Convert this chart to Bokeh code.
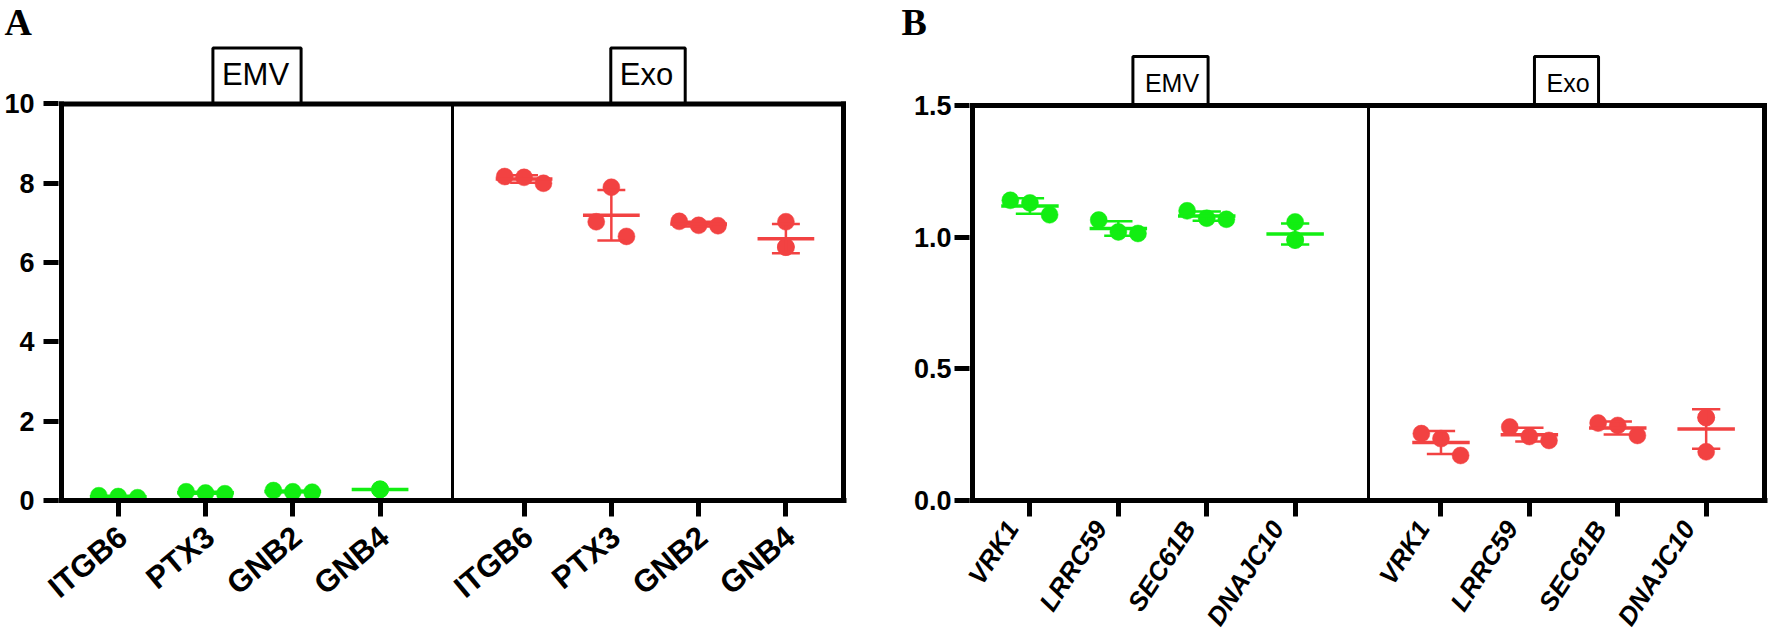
import numpy as np
from bokeh.plotting import figure
from bokeh.layouts import row
from bokeh.models import Range1d, FixedTicker, Label, NumeralTickFormatter, LinearAxis
from bokeh.embed import file_html
from bokeh.resources import INLINE

# ---------------- data ----------------
groups = ["EMV", "Exo"]

genes_a = ["ITGB6", "PTX3", "GNB2", "GNB4"]
emv_a = [[0.12, 0.10, 0.07], [0.22, 0.19, 0.17], [0.25, 0.22, 0.21], [0.28, 0.28, 0.28]]
exo_a = [[8.17, 8.15, 8.00], [7.90, 7.03, 6.66], [7.04, 6.94, 6.93], [7.03, 6.39, 6.39]]
yticks_a = [0, 2, 4, 6, 8, 10]

genes_b = ["VRK1", "LRRC59", "SEC61B", "DNAJC10"]
emv_b = [[1.14, 1.13, 1.085], [1.065, 1.020, 1.014], [1.10, 1.072, 1.068], [1.058, 0.989, 0.989]]
exo_b = [[0.254, 0.235, 0.171], [0.279, 0.243, 0.228], [0.294, 0.285, 0.247], [0.315, 0.315, 0.185]]
yticks_b = [0.0, 0.5, 1.0, 1.5]

# ---------------- layout / style ----------------
GREEN = "#12EE12"
RED = "#F24242"
X_EMV = [1.0, 2.0, 3.0, 4.0]
X_EXO = [5.65, 6.65, 7.65, 8.65]
DIVIDER = 4.83
XR = (0.35, 9.31)
STEP = 0.222      # horizontal spacing of overlapping dots (data units)
MEAN_HALF = 0.325
CAP_HALF = 0.16
DOT = 17
FONT = "Liberation Sans"
EDGE = 3          # px of frame beyond the drawn border lines
TITLE_H = 44      # expected height of the panel-letter title strip
FIG_H = 644


def spread(vals, px_per_unit, thr_px=17.5):
    """Column-scatter layout: close (but not identical) values are spread sideways."""
    uniq = sorted(set(vals), reverse=True)
    clusters = [[uniq[0]]]
    for v in uniq[1:]:
        if (clusters[-1][-1] - v) * px_per_unit < thr_px:
            clusters[-1].append(v)
        else:
            clusters.append([v])
    pos = {}
    for c in clusters:
        k = len(c)
        if k == 1:
            offs = [0.0]
        elif k == 2:
            offs = [-0.78 * STEP, 0.78 * STEP]
        else:
            offs = list(np.linspace(-(k - 1) / 2 * STEP, (k - 1) / 2 * STEP, k))
        for v, o in zip(c, offs):
            pos[v] = o
    return [pos[v] for v in vals]


def make_panel(letter, letter_x, genes, emv, exo, yticks, fmt, line_left, line_right, y_top_px, y_zero_px,
               fig_x0, fig_x1, label_style, label_size, label_angle, label_shift, standoff,
               ylab_standoff, box_font, box_pad):
    ymax = yticks[-1]
    inner_w = line_right - line_left
    sx = inner_w / (XR[1] - XR[0])
    sy = (y_zero_px - y_top_px) / (ymax - yticks[0])
    top_px = y_top_px - TITLE_H
    frame_left = line_left - EDGE
    frame_right = line_right + EDGE
    p = figure(width=fig_x1 - fig_x0, height=FIG_H, output_backend="svg", toolbar_location=None,
               title=letter,
               x_range=Range1d(XR[0] - EDGE / sx, XR[1] + EDGE / sx),
               y_range=Range1d(yticks[0], ymax + top_px / sy),
               min_border_left=frame_left - fig_x0, min_border_right=fig_x1 - frame_right,
               min_border_top=0, min_border_bottom=FIG_H - y_zero_px,
               background_fill_color="white", border_fill_color="white")
    p.xgrid.visible = False
    p.ygrid.visible = False
    p.outline_line_color = None

    # panel letter
    p.title.align = "left"
    p.title.offset = letter_x - frame_left
    p.title.standoff = 0
    p.title.vertical_align = "top"
    p.title.text_font = "Liberation Serif"
    p.title.text_font_style = "bold"
    p.title.text_font_size = "38px"
    p.title.text_color = "black"

    # group boxes (drawn beneath the frame lines)
    centers = [(XR[0] + DIVIDER) / 2, (DIVIDER + XR[1]) / 2]
    for c, g in zip(centers, groups):
        p.add_layout(Label(x=c, y=ymax, text=g, text_align="center", text_baseline="bottom",
                           y_offset=0, text_font=FONT, text_font_size=box_font,
                           text_color="black", border_line_color="black", border_line_width=3,
                           background_fill_color="white", padding=box_pad, level="underlay"))

    for xs, data, col in ((X_EMV, emv, GREEN), (X_EXO, exo, RED)):
        px, py = [], []
        mx0, mx1, my = [], [], []
        ex, ey0, ey1 = [], [], []
        cx0, cx1, cy = [], [], []
        for xc, vals in zip(xs, data):
            offs = spread(vals, sy)
            px += [xc + o for o in offs]
            py += list(vals)
            m = float(np.mean(vals))
            sd = float(np.std(vals, ddof=1)) if len(vals) > 1 else 0.0
            mx0.append(xc - MEAN_HALF); mx1.append(xc + MEAN_HALF); my.append(m)
            ex.append(xc); ey0.append(m - sd); ey1.append(m + sd)
            for yy in (m - sd, m + sd):
                cx0.append(xc - CAP_HALF); cx1.append(xc + CAP_HALF); cy.append(yy)
        p.scatter(x=px, y=py, marker="circle", size=DOT, fill_color=col, line_color=col, line_width=0.5)
        p.segment(x0=ex, y0=ey0, x1=ex, y1=ey1, line_color=col, line_width=2.5)
        p.segment(x0=cx0, y0=cy, x1=cx1, y1=cy, line_color=col, line_width=2.5)
        p.segment(x0=mx0, y0=my, x1=mx1, y1=my, line_color=col, line_width=3.5)

    # frame: left, top, right borders and the group divider
    p.segment(x0=[XR[0], XR[0], XR[1]], y0=[0, ymax, 0], x1=[XR[0], XR[1], XR[1]], y1=[ymax, ymax, ymax],
              line_color="black", line_width=5, line_cap="square")
    p.segment(x0=[DIVIDER], y0=[0], x1=[DIVIDER], y1=[ymax], line_color="black", line_width=3)

    # x axis: tick marks on the default axis, names on a second label-only axis
    ticks = X_EMV + X_EXO
    p.xaxis.ticker = FixedTicker(ticks=ticks)
    p.xaxis.major_label_text_font_size = "1px"
    p.xaxis.major_label_text_color = None
    p.xaxis.major_label_standoff = 0
    lab_ticks = [t + label_shift for t in ticks]
    lab = LinearAxis(ticker=FixedTicker(ticks=lab_ticks),
                     major_label_overrides={t: g for t, g in zip(lab_ticks, genes + genes)},
                     axis_line_color=None, major_tick_line_color=None, minor_tick_line_color=None,
                     major_tick_in=0, major_tick_out=0, minor_tick_in=0, minor_tick_out=0,
                     major_label_orientation=label_angle, major_label_standoff=standoff,
                     major_label_text_font=FONT, major_label_text_font_style=label_style,
                     major_label_text_font_size=label_size, major_label_text_color="black")
    p.add_layout(lab, "below")

    p.yaxis.ticker = FixedTicker(ticks=yticks)
    p.yaxis.formatter = NumeralTickFormatter(format=fmt)
    p.yaxis.major_label_text_font = FONT
    p.yaxis.major_label_text_font_style = "bold"
    p.yaxis.major_label_text_font_size = "27px"
    p.yaxis.major_label_text_color = "black"
    p.yaxis.major_label_standoff = ylab_standoff
    p.yaxis.axis_line_color = None

    p.xaxis[0].axis_line_width = 5
    p.xaxis[0].axis_line_color = "black"
    for ax in (p.xaxis[0], p.yaxis[0]):
        ax.major_tick_line_width = 5
        ax.major_tick_line_color = "black"
        ax.major_tick_in = 0
        ax.minor_tick_line_color = None
    p.xaxis[0].major_tick_out = 16
    p.yaxis[0].major_tick_out = 15
    return p


# Panel A: page x 0..900, frame lines at x 61 / 843, y=10 at 104, y=0 at 504
pA = make_panel("A", 4, genes_a, emv_a, exo_a, yticks_a, "0", 61, 843, 104, 504, 0, 900,
                "bold", "31px", np.radians(40), 0.05, 16, 9, "31px", (9, 12, 9, 12))
# Panel B: page x 900..1771, frame lines at x 972 / 1764, y=1.5 at 105, y=0 at 500
pB = make_panel("B", 901, genes_b, emv_b, exo_b, yticks_b, "0.0", 972, 1764, 105, 500, 900, 1771,
                "bold italic", "26px", np.radians(57), -0.2, 7, 3, "25px", (12, 9, 12, 9))

layout = row(pA, pB)
open("out.html", "w").write(file_html(layout, INLINE))
